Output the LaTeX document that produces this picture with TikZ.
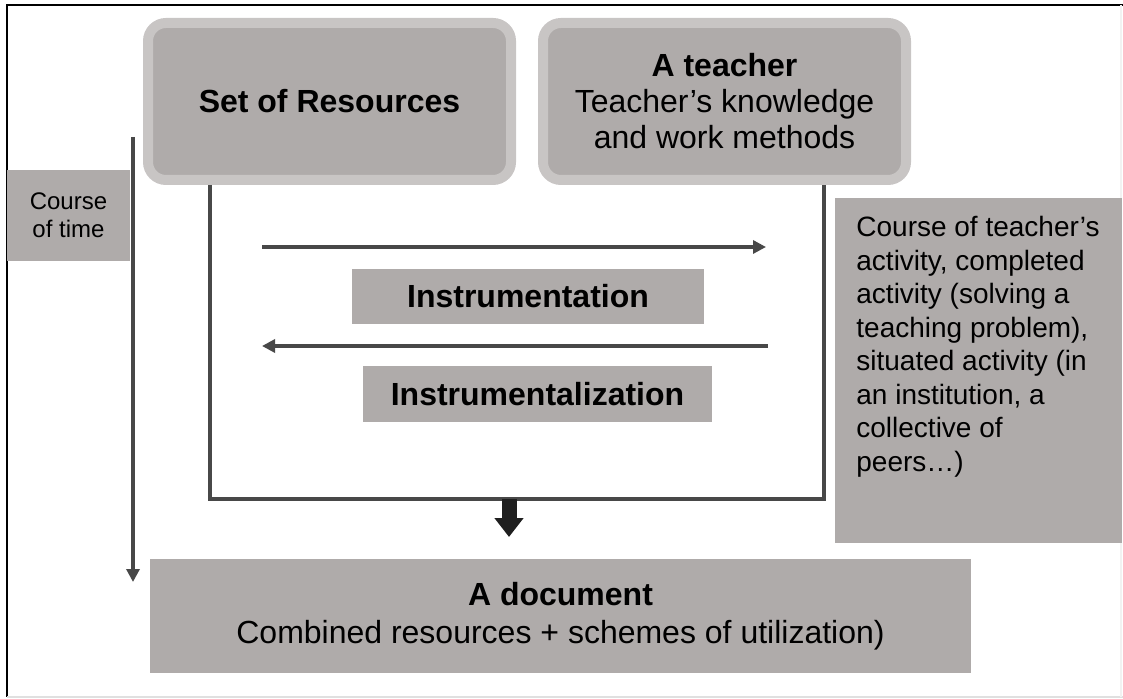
\documentclass[tikz,border=0pt]{standalone}
\usepackage{fontspec}
\setmainfont{Liberation Sans}
\usetikzlibrary{arrows.meta}
\definecolor{cajagris}{RGB}{175,171,170}
\definecolor{bordegris}{RGB}{200,197,196}
\definecolor{lineagris}{RGB}{72,72,72}

\begin{document}
\begin{tikzpicture}[x=0.5pt,y=-0.5pt,
		caja/.style={fill=cajagris,inner sep=0pt,outer sep=0pt,align=center},
		cajaredonda/.style={caja,draw=bordegris,line width=5pt,outer sep=2.5pt,
			rounded corners=9pt,minimum width=181.5pt,minimum height=78.5pt,
			font=\fontsize{16}{18}\selectfont},
		flecha/.style={draw=lineagris,line width=1.6pt,
			-{Triangle[length=6.5pt,width=6.5pt]}},
		linea/.style={draw=lineagris,line width=2.2pt}]
	\useasboundingbox (0,0) rectangle (1123,699);
	% Marco
	\draw[line width=1pt] (1123,5) -- (7,5) -- (7,697);
	\draw[line width=1pt,draw=black!12] (7,697) -- (1123,697);
	\draw[line width=0.8pt,draw=black!5] (1121,5) -- (1121,697);
	% Definir las cajas
	\node[cajaredonda] (recursos) at (329.5,101.5) {\textbf{Set of Resources}};
	\node[cajaredonda] (profesor) at (724.5,101.5) {%
		\textbf{A teacher}\\
		Teacher’s knowledge\\
		and work methods};
	\node[caja,minimum width=61.5pt,minimum height=45.5pt,
		font=\fontsize{12}{14}\selectfont] (tiempo) at (68.5,215.5) {Course\\ of time};
	\node[caja,minimum width=176pt,minimum height=27.5pt,
		font=\bfseries\fontsize{16}{18}\selectfont] (instrumentacion) at (528,296.5)
		{Instrumentation};
	\node[caja,minimum width=174.5pt,minimum height=28pt,
		font=\bfseries\fontsize{16}{18}\selectfont] (instrumentalizacion) at (537.5,394)
		{Instrumentalization};
	\node[caja,anchor=north west,minimum width=143.5pt,minimum height=172.5pt,
		label={[anchor=north west,inner sep=0pt,xshift=10.5pt,yshift=-9pt,align=left,
			font=\fontsize{14}{16.75}\selectfont]north west:{%
			Course of teacher’s\\
			activity, completed\\
			activity (solving a\\
			teaching problem),\\
			situated activity (in\\
			an institution, a\\
			collective of\\
			peers…)}}] (actividad) at (835,198) {};
	\node[caja,minimum width=410.5pt,minimum height=57pt,
		font=\fontsize{16}{19}\selectfont] (documento) at (560.5,616) {%
		\textbf{A document}\\
		Combined resources + schemes of utilization)};
	% Conectores
	\coordinate (tiempoini) at (133,137);
	\coordinate (tiempofin) at (133,582);
	\draw[flecha] (tiempoini) -- (tiempofin);
	\coordinate (esqizq) at (210,499);
	\coordinate (esqder) at (824,499);
	\draw[linea] (recursos.south -| esqizq) -- (esqizq) -- (esqder)
		-- (profesor.south -| esqder);
	\coordinate (izqA) at (262,247);
	\coordinate (derA) at (766,247);
	\draw[flecha] (izqA) -- (derA);
	\coordinate (derB) at (768,346);
	\coordinate (izqB) at (262,346);
	\draw[flecha] (derB) -- (izqB);
	\coordinate (bajada) at (509,499);
	\draw[line width=7.5pt,draw=black!88,-{Triangle[length=9.5pt,width=14pt]}]
		(bajada) -- ([yshift=11pt]documento.north -| bajada);
\end{tikzpicture}
\end{document}
